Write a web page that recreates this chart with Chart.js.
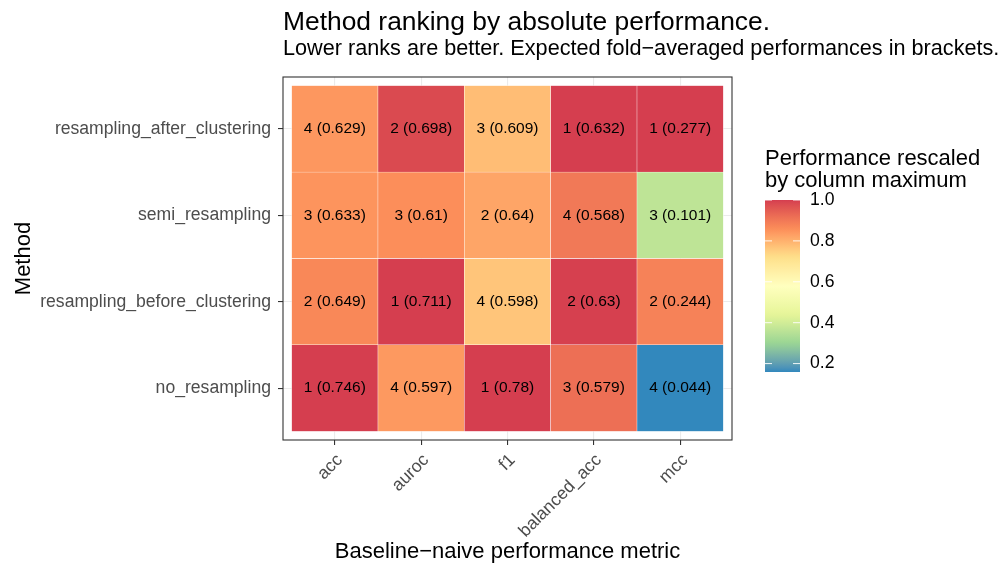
<!DOCTYPE html>
<html>
<head>
<meta charset="utf-8">
<script src="https://cdn.jsdelivr.net/npm/chart.js@4"></script>
<style>
  html, body { margin: 0; background: #fff; }
  canvas { display: block; }
</style>
</head>
<body>
<canvas id="heat" width="1004" height="566"></canvas>
<script>
// ---------- data ----------
const metrics = ['acc', 'auroc', 'f1', 'balanced_acc', 'mcc'];
// rows listed bottom -> top
const methods = ['no_resampling', 'resampling_before_clustering', 'semi_resampling', 'resampling_after_clustering'];

const perfNoResampling     = [0.746, 0.597, 0.78, 0.579, 0.044];
const perfBeforeClustering = [0.649, 0.711, 0.598, 0.63, 0.244];
const perfSemiResampling   = [0.633, 0.61, 0.64, 0.568, 0.101];
const perfAfterClustering  = [0.629, 0.698, 0.609, 0.632, 0.277];

const rankNoResampling     = [1, 4, 1, 3, 4];
const rankBeforeClustering = [2, 1, 4, 2, 2];
const rankSemiResampling   = [3, 3, 2, 4, 3];
const rankAfterClustering  = [4, 2, 3, 1, 1];

const legendTicks = [0.2, 0.4, 0.6, 0.8, 1.0];

const perfRows = [perfNoResampling, perfBeforeClustering, perfSemiResampling, perfAfterClustering];
const rankRows = [rankNoResampling, rankBeforeClustering, rankSemiResampling, rankAfterClustering];

// ---------- rescale each column by its maximum ----------
const colMax = metrics.map((_, j) => Math.max(...perfRows.map(r => r[j])));
const scaled = perfRows.map(r => r.map((v, j) => v / colMax[j]));
const lo = Math.min(...scaled.flat());
const hi = Math.max(...scaled.flat());

// ---------- Spectral palette (reversed), interpolated in Lab ----------
const spectral = ['#3288BD', '#99D594', '#E6F598', '#FFFFBF', '#FEE08B', '#FC8D59', '#D53E4F'];

const hexToRgb = h => [1, 3, 5].map(i => parseInt(h.slice(i, i + 2), 16));
const toLin = c => { c /= 255; return c <= 0.04045 ? c / 12.92 : Math.pow((c + 0.055) / 1.055, 2.4); };
const fromLin = c => {
  c = c <= 0.0031308 ? 12.92 * c : 1.055 * Math.pow(c, 1 / 2.4) - 0.055;
  return Math.round(Math.max(0, Math.min(1, c)) * 255);
};
function rgbToLab([r, g, b]) {
  const R = toLin(r), G = toLin(g), B = toLin(b);
  const x = (0.4124564 * R + 0.3575761 * G + 0.1804375 * B) / 0.95047;
  const y = (0.2126729 * R + 0.7151522 * G + 0.0721750 * B);
  const z = (0.0193339 * R + 0.1191920 * G + 0.9503041 * B) / 1.08883;
  const f = t => t > 0.008856 ? Math.cbrt(t) : 7.787 * t + 16 / 116;
  const fx = f(x), fy = f(y), fz = f(z);
  return [116 * fy - 16, 500 * (fx - fy), 200 * (fy - fz)];
}
function labToRgb([L, a, b]) {
  const fy = (L + 16) / 116, fx = fy + a / 500, fz = fy - b / 200;
  const inv = t => t * t * t > 0.008856 ? t * t * t : (t - 16 / 116) / 7.787;
  const x = inv(fx) * 0.95047, y = inv(fy), z = inv(fz) * 1.08883;
  return [
     3.2404542 * x - 1.5371385 * y - 0.4985314 * z,
    -0.9692660 * x + 1.8760108 * y + 0.0415560 * z,
     0.0556434 * x - 0.2040259 * y + 1.0572252 * z
  ].map(fromLin);
}
const paletteLab = spectral.map(h => rgbToLab(hexToRgb(h)));

function colorFor(v) {
  const t = Math.max(0, Math.min(1, (v - lo) / (hi - lo)));
  const seg = t * (paletteLab.length - 1);
  const i = Math.min(paletteLab.length - 2, Math.floor(seg));
  const f = seg - i;
  const a = paletteLab[i], b = paletteLab[i + 1];
  const [r, g, bl] = labToRgb(a.map((c, k) => c + (b[k] - c) * f));
  return `rgb(${r},${g},${bl})`;
}

// ---------- plugins ----------
const $ = (id) => document.getElementById(id);

// rank + performance text in each tile
const cellText = {
  id: 'cellText',
  afterDatasetsDraw(chart) {
    const ctx = chart.ctx;
    ctx.save();
    ctx.font = '15.5px "Liberation Sans", Arial, sans-serif';
    ctx.fillStyle = '#000';
    ctx.textAlign = 'center';
    ctx.textBaseline = 'middle';
    chart.data.datasets.forEach((ds, i) => {
      chart.getDatasetMeta(i).data.forEach((bar, j) => {
        ctx.fillText(`${rankRows[i][j]} (${perfRows[i][j]})`, bar.x, (bar.y + bar.base) / 2);
      });
    });
    ctx.restore();
  }
};

// panel border, titles and the colour bar
const decorations = {
  id: 'decorations',
  afterDraw(chart) {
    const ctx = chart.ctx;
    const a = chart.chartArea;
    ctx.save();
    ctx.strokeStyle = '#333333';
    ctx.lineWidth = 1.1;
    ctx.strokeRect(a.left, a.top, a.right - a.left, a.bottom - a.top);

    ctx.fillStyle = '#000';
    ctx.textAlign = 'left';
    ctx.textBaseline = 'alphabetic';
    ctx.font = '26.4px "Liberation Sans", Arial, sans-serif';
    ctx.fillText('Method ranking by absolute performance.', a.left, 30);
    ctx.font = '21.65px "Liberation Sans", Arial, sans-serif';
    ctx.fillText('Lower ranks are better. Expected fold\u2212averaged performances in brackets.', a.left, 55);

    // colour bar legend
    const bx = a.right + 33, bw = 35, by = 200, bh = 172;
    ctx.font = '22px "Liberation Sans", Arial, sans-serif';
    ctx.fillText('Performance rescaled', bx, 165);
    ctx.fillText('by column maximum', bx, 187);

    const grad = ctx.createLinearGradient(0, by + bh, 0, by);
    for (let k = 0; k <= 40; k++) {
      const v = lo + (hi - lo) * k / 40;
      grad.addColorStop(k / 40, colorFor(v));
    }
    ctx.fillStyle = grad;
    ctx.fillRect(bx, by, bw, bh);

    ctx.font = '17.6px "Liberation Sans", Arial, sans-serif';
    ctx.textBaseline = 'middle';
    legendTicks.forEach(v => {
      const y = by + (hi - v) / (hi - lo) * bh;
      ctx.strokeStyle = 'rgba(255,255,255,0.9)';
      ctx.lineWidth = 1;
      ctx.beginPath();
      ctx.moveTo(bx, y); ctx.lineTo(bx + 7, y);
      ctx.moveTo(bx + bw - 7, y); ctx.lineTo(bx + bw, y);
      ctx.stroke();
      ctx.fillStyle = '#000';
      ctx.fillText(v.toFixed(1), bx + 45, y);
    });
    ctx.restore();
  }
};

// ---------- chart ----------
Chart.defaults.font.family = '"Liberation Sans", Arial, sans-serif';

new Chart($('heat'), {
  type: 'bar',
  data: {
    datasets: methods.map((m, i) => ({
      label: m,
      data: metrics.map((_, j) => ({ x: j + 1, y: [i + 0.5, i + 1.5] })),
      backgroundColor: metrics.map((_, j) => colorFor(scaled[i][j])),
      borderColor: '#ffffff',
      borderWidth: 0.5,
      borderSkipped: false,
      grouped: false,
      barPercentage: 1,
      categoryPercentage: 1
    }))
  },
  options: {
    responsive: false,
    animation: false,
    layout: { padding: { top: 77, right: 272, bottom: 0, left: 0 } },
    plugins: {
      legend: { display: false },
      tooltip: { enabled: false }
    },
    scales: {
      x: {
        type: 'linear',
        min: 0.4,
        max: 5.6,
        offset: false,
        afterBuildTicks: s => { s.ticks = metrics.map((_, j) => ({ value: j + 1 })); },
        afterFit: s => { s.height = 126; },
        ticks: {
          callback: v => metrics[Math.round(v) - 1],
          autoSkip: false,
          minRotation: 45,
          maxRotation: 45,
          color: '#4D4D4D',
          font: { size: 17.6 },
          padding: 5,
          labelOffset: 5
        },
        grid: { offset: false, color: '#EBEBEB', lineWidth: 1.1, tickColor: '#333333', tickLength: 5 },
        border: { display: false },
        title: {
          display: true,
          text: 'Baseline\u2212naive performance metric',
          color: '#000',
          font: { size: 22 },
          padding: { top: 0, bottom: 1 }
        }
      },
      y: {
        type: 'linear',
        min: 0.4,
        max: 4.6,
        offset: false,
        afterBuildTicks: s => { s.ticks = methods.map((_, i) => ({ value: i + 1 })); },
        afterFit: s => { s.width = 283; },
        ticks: {
          callback: v => methods[Math.round(v) - 1],
          color: '#4D4D4D',
          font: { size: 17.6 },
          padding: 7
        },
        grid: { color: '#EBEBEB', lineWidth: 1.1, tickColor: '#333333', tickLength: 5 },
        border: { display: false },
        title: {
          display: true,
          text: 'Method',
          color: '#000',
          font: { size: 22 },
          padding: { top: 11, bottom: 0 }
        }
      }
    }
  },
  plugins: [cellText, decorations]
});
</script>
</body>
</html>
